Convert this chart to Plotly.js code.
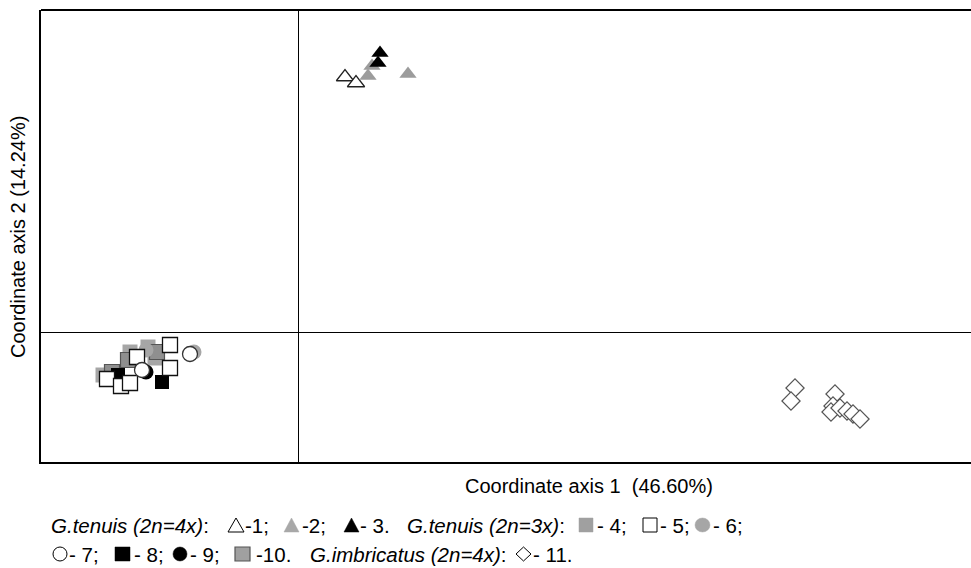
<!DOCTYPE html>
<html><head><meta charset="utf-8">
<script src="https://cdn.plot.ly/plotly-3.0.1.min.js"></script>
<style>html,body{margin:0;padding:0;background:#fff;}#chart{width:971px;height:568px;}</style>
</head><body><div id="chart"></div>
<script>
// Group labels
const groups = ["1","2","3","4","5","6","7","8","9","10","11"];
// Coordinates (axis 1, axis 2)
const g1x = [0.094, 0.116];               const g1y = [0.510, 0.498];
const g2x = [0.140, 0.148, 0.220];        const g2y = [0.512, 0.532, 0.516];
const g3x = [0.160, 0.164];               const g3y = [0.538, 0.558];
const g4x = [-0.336, -0.390, -0.286, -0.300];     const g4y = [-0.040, -0.086, -0.052, -0.030];
const g10x = [-0.340, -0.282, -0.372];    const g10y = [-0.056, -0.040, -0.080];
const g6x = [-0.208, -0.304];             const g6y = [-0.040, -0.036];
const g8x = [-0.272, -0.360];             const g8y = [-0.100, -0.086];
const g9x = [-0.304];                     const g9y = [-0.080];
const g5x = [-0.256, -0.322, -0.256, -0.382, -0.354, -0.336]; const g5y = [-0.026, -0.050, -0.072, -0.094, -0.108, -0.102];
const g7x = [-0.216, -0.312];             const g7y = [-0.044, -0.076];
const g11x = [0.994, 0.986, 1.074, 1.070, 1.066, 1.084, 1.098, 1.110, 1.124];
const g11y = [-0.112, -0.138, -0.124, -0.148, -0.160, -0.152, -0.158, -0.164, -0.174];

// Legend key texts
const keyLabels = ["-1;", "-2;", "- 3.", "- 4;", "- 5;", "- 6;", "- 7;", "- 8;", "- 9;", "-10.", "- 11."];
const speciesLabels = ["G.tenuis (2n=4x)", "G.tenuis (2n=3x)", "G.imbricatus (2n=4x)"];

function tr(x, y, name, symbol, color, lineColor, size, lw) {
  return {x: x, y: y, name: name, type: "scatter", mode: "markers",
    marker: {symbol: symbol, color: color, size: size, line: {color: lineColor, width: lw}},
    hoverinfo: "skip"};
}
const data = [
  tr(g4x, g4y, groups[3], "square", "#a6a6a6", "#a6a6a6", 15, 0),
  tr(g10x, g10y, groups[9], "square", "#8f8f8f", "#555", 15, 1.2),
  tr(g6x, g6y, groups[5], "circle", "#a6a6a6", "#a6a6a6", 15, 0),
  tr(g8x, g8y, groups[7], "square", "#000", "#000", 14, 0),
  tr(g9x, g9y, groups[8], "circle", "#000", "#000", 15, 0),
  tr(g5x, g5y, groups[4], "square", "#fff", "#111", 15, 1.3),
  tr(g7x, g7y, groups[6], "circle", "#fff", "#333", 15, 1.3),
  tr(g1x, g1y, groups[0], "triangle-up", "#fff", "#222", 15, 1.3),
  tr(g2x, g2y, groups[1], "triangle-up", "#9c9c9c", "#9c9c9c", 15, 0),
  tr(g3x, g3y, groups[2], "triangle-up", "#000", "#000", 15, 0),
  tr(g11x, g11y, groups[10], "diamond", "#fff", "#555", 14, 1.2)
];

function px(x){return (x-41)/930;}
function py(y){return (462-y)/452;}
const L1 = 525, L2 = 554;

// legend key symbols as paper shapes (pixel boxes)
function keyShape(kind, x0, x1, yc, fill, line, lw) {
  const y0 = yc - 7, y1 = yc + 7, xm = (x0 + x1) / 2;
  const base = {xref: "paper", yref: "paper", fillcolor: fill, line: {color: line, width: lw}, layer: "above"};
  if (kind === "rect" || kind === "circle") {
    return Object.assign({type: kind, x0: px(x0), x1: px(x1), y0: py(y1), y1: py(y0)}, base);
  }
  let p;
  if (kind === "tri") {
    p = "M" + px(x0) + "," + py(y1) + " L" + px(x1) + "," + py(y1) + " L" + px(xm) + "," + py(y0) + " Z";
  } else {
    const ym = yc;
    p = "M" + px(x0) + "," + py(ym) + " L" + px(xm) + "," + py(y0) + " L" + px(x1) + "," + py(ym) + " L" + px(xm) + "," + py(y1) + " Z";
  }
  return Object.assign({type: "path", path: p}, base);
}

const shapes = [
  {type: "line", xref: "paper", yref: "paper", x0: 0, x1: 1, y0: 1, y1: 1, line: {color: "#000", width: 2}},
  keyShape("tri", 228, 244, L1, "#fff", "#000", 1),
  keyShape("tri", 284, 299, L1, "#a8a8a8", "#a8a8a8", 0.5),
  keyShape("tri", 344, 359, L1, "#000", "#000", 0.5),
  keyShape("rect", 579, 593, L1, "#a0a0a0", "#a0a0a0", 0.5),
  keyShape("rect", 643, 657, L1, "#fff", "#000", 1),
  keyShape("circle", 695, 710, L1, "#a6a6a6", "#a6a6a6", 0.5),
  keyShape("circle", 53, 67, L2, "#fff", "#000", 1),
  keyShape("rect", 115, 130, L2, "#000", "#000", 0.5),
  keyShape("circle", 173, 187, L2, "#000", "#000", 0.5),
  keyShape("rect", 235, 250, L2, "#a0a0a0", "#555", 1.2),
  keyShape("diamond", 516, 531, L2, "#fff", "#000", 1)
];

const FS = 20.5;
function txt(t, x, y) {
  return {text: t, xref: "paper", yref: "paper", x: px(x), y: py(y), showarrow: false,
    xanchor: "left", yanchor: "middle", font: {size: FS}, borderpad: 0};
}
const annotations = [
  {text: "Coordinate axis 1  (46.60%)", xref: "paper", yref: "paper", x: px(589), y: py(486),
    showarrow: false, xanchor: "center", yanchor: "middle", font: {size: 20}},
  {text: "Coordinate axis 2 (14.24%)", xref: "paper", yref: "paper", x: px(18), y: py(237),
    showarrow: false, xanchor: "center", yanchor: "middle", textangle: -90, font: {size: 20}},
  txt("<i>" + speciesLabels[0] + "</i>:", 50, L1),
  txt(keyLabels[0], 244, L1),
  txt(keyLabels[1], 301, L1),
  txt(keyLabels[2], 359, L1),
  txt("<i>" + speciesLabels[1] + "</i>:", 406, L1),
  txt(keyLabels[3], 596, L1),
  txt(keyLabels[4], 659, L1),
  txt(keyLabels[5], 712, L1),
  txt(keyLabels[6], 68, L2),
  txt(keyLabels[7], 133, L2),
  txt(keyLabels[8], 189, L2),
  txt(keyLabels[9], 255, L2),
  txt("<i>" + speciesLabels[2] + "</i>:", 309, L2),
  txt(keyLabels[10], 532, L2)
];

const layout = {
  width: 971, height: 568,
  margin: {l: 41, r: 0, t: 10, b: 106},
  paper_bgcolor: "#fff", plot_bgcolor: "#fff",
  showlegend: false,
  font: {family: "Liberation Sans, Arial, sans-serif", color: "#000", size: 19},
  xaxis: {range: [-0.514, 1.346], showgrid: false, showticklabels: false, ticks: "",
    zeroline: true, zerolinecolor: "#000", zerolinewidth: 1,
    showline: true, linecolor: "#000", linewidth: 2},
  yaxis: {range: [-0.26, 0.644], showgrid: false, showticklabels: false, ticks: "",
    zeroline: true, zerolinecolor: "#000", zerolinewidth: 1,
    showline: true, linecolor: "#000", linewidth: 2},
  shapes: shapes,
  annotations: annotations
};
Plotly.newPlot("chart", data, layout, {displayModeBar: false, staticPlot: true});
</script></body></html>
